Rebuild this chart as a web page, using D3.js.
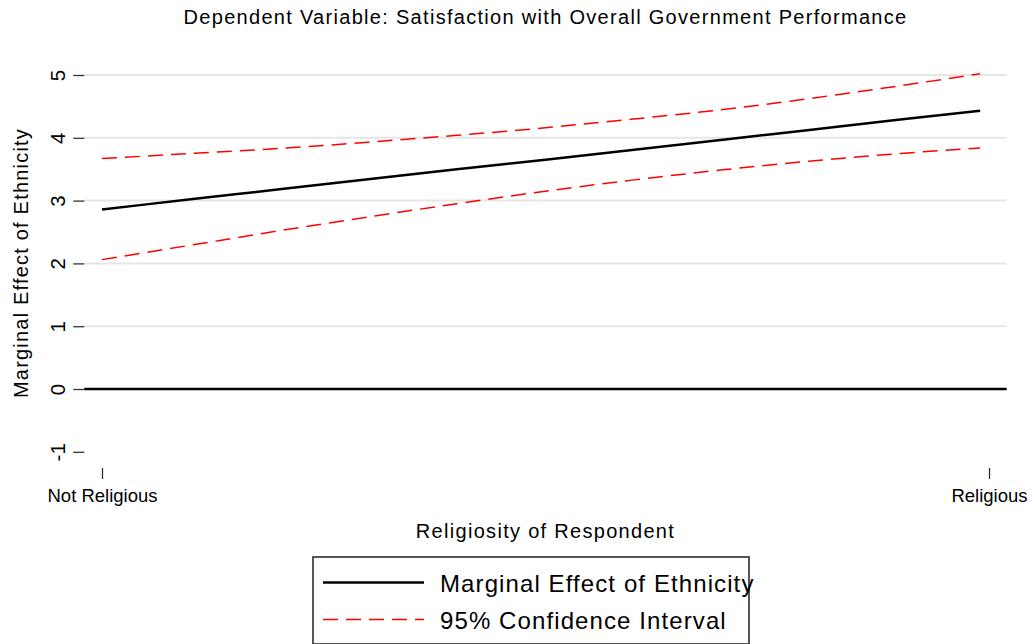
<!DOCTYPE html>
<html>
<head>
<meta charset="utf-8">
<script src="https://cdn.jsdelivr.net/npm/d3@7"></script>
<style>
  html, body { margin: 0; padding: 0; background: #ffffff; }
  svg { display: block; font-family: "Liberation Sans", Arial, Helvetica, sans-serif; }
</style>
</head>
<body>
<svg id="chart" width="1034" height="644"></svg>
<script>
// Religiosity (0 = not religious, 1 = religious) at which the effect is evaluated
const religiosity = [0, 0.1, 0.2, 0.3, 0.4, 0.5, 0.6, 0.7, 0.8, 0.9, 0.99];
// Marginal effect of ethnicity and its 95% confidence bounds
const effect = [2.86, 3.02, 3.18, 3.34, 3.50, 3.65, 3.81, 3.97, 4.13, 4.29, 4.43];
const upper  = [3.67, 3.75, 3.83, 3.93, 4.04, 4.16, 4.30, 4.45, 4.63, 4.83, 5.02];
const lower  = [2.06, 2.29, 2.52, 2.74, 2.95, 3.15, 3.33, 3.49, 3.63, 3.75, 3.84];

const yTicks = [-1, 0, 1, 2, 3, 4, 5];
const yTickLabels = ["-1", "0", "1", "2", "3", "4", "5"];
const gridValues = [1, 2, 3, 4, 5];
const xTicks = [0, 1];
const xTickLabels = ["Not Religious", "Religious"];

const titleText = "Dependent Variable: Satisfaction with Overall Government Performance";
const xTitle = "Religiosity of Respondent";
const yTitle = "Marginal Effect of Ethnicity";
const legendLabels = ["Marginal Effect of Ethnicity", "95% Confidence Interval"];

const svg = d3.select("#chart");

const x = d3.scaleLinear().domain([0, 1]).range([102, 989]);
const y = d3.scaleLinear().domain([0, 5]).range([389, 75]);

const plotLeft = x(-0.02), plotRight = x(1.02), plotBottom = 468;

// horizontal reference lines
svg.append("g").selectAll("line").data(gridValues).join("line")
  .attr("x1", plotLeft).attr("x2", plotRight)
  .attr("y1", d => y(d)).attr("y2", d => y(d))
  .attr("stroke", "#e6e6e6").attr("stroke-width", 2);

// zero line
svg.append("line")
  .attr("x1", plotLeft).attr("x2", plotRight)
  .attr("y1", y(0)).attr("y2", y(0))
  .attr("stroke", "#000").attr("stroke-width", 2.6);

// y axis (ticks and rotated labels, no spine)
const yAxis = d3.axisLeft(y).tickValues(yTicks).tickSize(11).tickPadding(0)
  .tickFormat((d, i) => yTickLabels[i]);
const gy = svg.append("g").attr("transform", `translate(${plotLeft},0)`).call(yAxis);
gy.select(".domain").remove();
gy.selectAll(".tick line").attr("stroke", "#333").attr("stroke-width", 1.3);
gy.selectAll(".tick text")
  .attr("x", null).attr("dy", null)
  .attr("transform", "translate(-19,0) rotate(-90)")
  .attr("text-anchor", "middle")
  .attr("font-size", 20.5)
  .attr("fill", "#000");

// x axis (ticks and labels, no spine)
const xAxis = d3.axisBottom(x).tickValues(xTicks).tickSize(11).tickPadding(0)
  .tickFormat((d, i) => xTickLabels[i]);
const gx = svg.append("g").attr("transform", `translate(0,${plotBottom})`).call(xAxis);
gx.select(".domain").remove();
gx.selectAll(".tick line").attr("stroke", "#333").attr("stroke-width", 1.3);
gx.selectAll(".tick text")
  .attr("y", 34).attr("dy", null)
  .attr("font-size", 18.5)
  .attr("fill", "#000");

// lines
const line = vals => d3.line()
  .x((d, i) => x(religiosity[i]))
  .y(d => y(d))
  .curve(d3.curveMonotoneX)(vals);

svg.append("path").attr("d", line(upper))
  .attr("fill", "none").attr("stroke", "#ff0000").attr("stroke-width", 1.5)
  .attr("stroke-dasharray", "15,8");
svg.append("path").attr("d", line(lower))
  .attr("fill", "none").attr("stroke", "#ff0000").attr("stroke-width", 1.5)
  .attr("stroke-dasharray", "15,8");
svg.append("path").attr("d", line(effect))
  .attr("fill", "none").attr("stroke", "#000").attr("stroke-width", 2.5);

// titles
svg.append("text").text(titleText)
  .attr("x", (x(0) + x(1)) / 2).attr("y", 24)
  .attr("text-anchor", "middle").attr("font-size", 20)
  .attr("letter-spacing", 1.3).attr("fill", "#000");

svg.append("text").text(xTitle)
  .attr("x", (x(0) + x(1)) / 2).attr("y", 538)
  .attr("text-anchor", "middle").attr("font-size", 20)
  .attr("letter-spacing", 1.3).attr("fill", "#000");

svg.append("text").text(yTitle)
  .attr("transform", `translate(28,263) rotate(-90)`)
  .attr("text-anchor", "middle").attr("font-size", 20)
  .attr("letter-spacing", 1.2).attr("fill", "#000");

// legend
const legend = svg.append("g");
legend.append("rect")
  .attr("x", 313).attr("y", 557).attr("width", 436).attr("height", 87)
  .attr("fill", "#fff").attr("stroke", "#444").attr("stroke-width", 1.8);

const legendItems = [
  { label: legendLabels[0], color: "#000", width: 2.6, dash: null },
  { label: legendLabels[1], color: "#ff0000", width: 1.5, dash: "15,8" }
];
const rowY = d3.scaleBand().domain(d3.range(legendItems.length)).range([564, 638]);
legendItems.forEach((it, i) => {
  const cy = rowY(i) + rowY.bandwidth() / 2;
  legend.append("line")
    .attr("x1", 323).attr("x2", 424).attr("y1", cy).attr("y2", cy)
    .attr("stroke", it.color).attr("stroke-width", it.width)
    .attr("stroke-dasharray", it.dash);
  legend.append("text").text(it.label)
    .attr("x", 440).attr("y", cy + 9.5)
    .attr("font-size", 24).attr("letter-spacing", 1.1).attr("fill", "#000");
});
</script>
</body>
</html>
